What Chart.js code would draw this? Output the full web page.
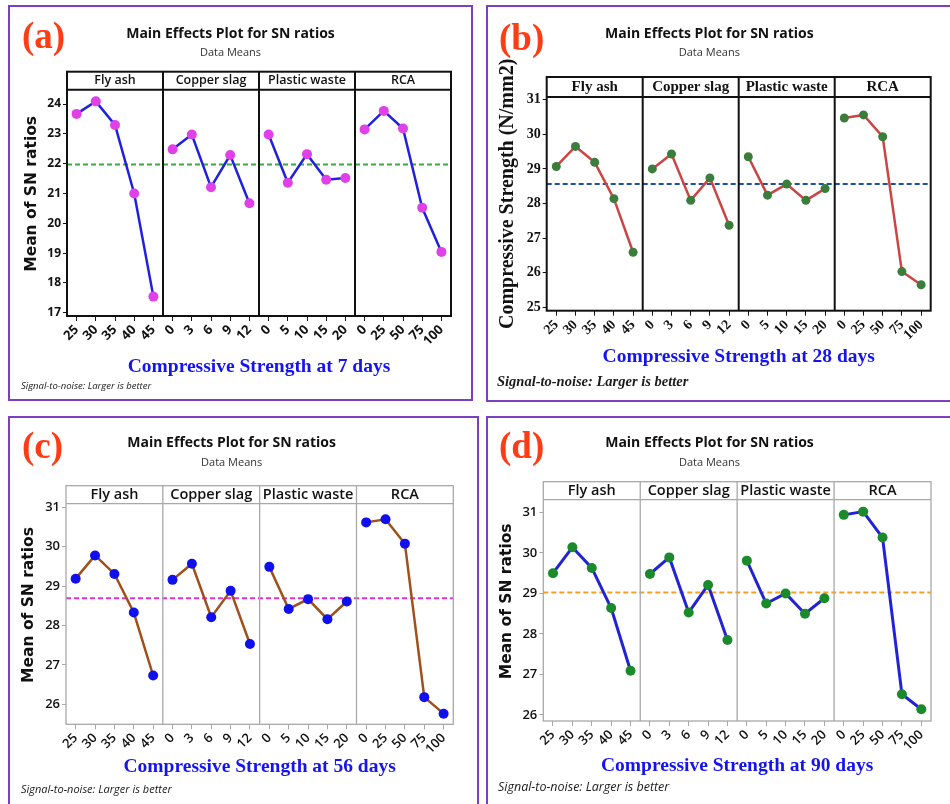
<!DOCTYPE html>
<html><head><meta charset="utf-8">
<script src="https://cdn.jsdelivr.net/npm/chart.js@4.4.1/dist/chart.umd.min.js"></script>
<style>
html,body{margin:0;padding:0;background:#fff;}
body{width:950px;height:804px;position:relative;overflow:hidden;}
.panel{position:absolute;box-sizing:border-box;border:2px solid #7b3fc0;}
canvas{position:absolute;}
.lab{position:absolute;font-family:"Liberation Serif",serif;font-weight:bold;font-size:37px;line-height:37px;color:#ff3c14;white-space:nowrap;z-index:5;}
.note{position:absolute;white-space:nowrap;line-height:20px;color:#1a1a1a;z-index:5;}
</style></head><body>
<div class="panel" style="left:8px;top:5px;width:465px;height:396px;"></div>
<div class="panel" style="left:486px;top:5px;width:470px;height:397px;"></div>
<div class="panel" style="left:8px;top:416px;width:471px;height:400px;"></div>
<div class="panel" style="left:486px;top:416px;width:470px;height:400px;"></div>
<canvas id="cA" width="461" height="392" style="left:10px;top:7px;"></canvas>
<canvas id="cB" width="462" height="393" style="left:488px;top:7px;"></canvas>
<canvas id="cC" width="467" height="386" style="left:10px;top:418px;"></canvas>
<canvas id="cD" width="462" height="386" style="left:488px;top:418px;"></canvas>
<div class="lab" style="left:22px;top:17px;">(a)</div>
<div class="lab" style="left:499px;top:19px;">(b)</div>
<div class="lab" style="left:22px;top:427px;">(c)</div>
<div class="lab" style="left:499px;top:427px;">(d)</div>
<div class="note" style="left:21px;top:376px;font-family:'Open Sans';font-style:italic;font-size:9.5px;">Signal-to-noise: Larger is better</div>
<div class="note" style="left:497px;top:371px;font-family:'Liberation Serif';font-style:italic;font-weight:bold;font-size:14.5px;">Signal-to-noise: Larger is better</div>
<div class="note" style="left:21px;top:779px;font-family:'Open Sans';font-style:italic;font-size:11px;">Signal-to-noise: Larger is better</div>
<div class="note" style="left:498px;top:777px;font-family:'Open Sans';font-style:italic;font-weight:500;font-size:12.5px;">Signal-to-noise: Larger is better</div>
<script>
// ---------- data ----------
const factorNames = ['Fly ash', 'Copper slag', 'Plastic waste', 'RCA'];
const levelsFly = ['25', '30', '35', '40', '45'];
const levelsCopper = ['0', '3', '6', '9', '12'];
const levelsPlastic = ['0', '5', '10', '15', '20'];
const levelsRCA = ['0', '25', '50', '75', '100'];
const xLabels = [...levelsFly, ...levelsCopper, ...levelsPlastic, ...levelsRCA];

// (a) 7 days
const flyA = [23.67, 24.09, 23.30, 21.00, 17.54];
const copperA = [22.48, 22.98, 21.21, 22.29, 20.67];
const plasticA = [22.98, 21.36, 22.32, 21.46, 21.52];
const rcaA = [23.15, 23.77, 23.18, 20.52, 19.04];
const meanA = 21.97;
const yTicksA = [17, 18, 19, 20, 21, 22, 23, 24];

// (b) 28 days
const flyB = [29.07, 29.65, 29.19, 28.14, 26.59];
const copperB = [29.00, 29.43, 28.09, 28.74, 27.37];
const plasticB = [29.35, 28.24, 28.56, 28.09, 28.43];
const rcaB = [30.47, 30.56, 29.93, 26.03, 25.65];
const meanB = 28.56;
const yTicksB = [25, 26, 27, 28, 29, 30, 31];

// (c) 56 days
const flyC = [29.19, 29.78, 29.31, 28.33, 26.73];
const copperC = [29.16, 29.57, 28.21, 28.88, 27.53];
const plasticC = [29.49, 28.42, 28.67, 28.16, 28.61];
const rcaC = [30.62, 30.70, 30.08, 26.18, 25.76];
const meanC = 28.69;
const yTicksC = [26, 27, 28, 29, 30, 31];

// (d) 90 days
const flyD = [29.50, 30.14, 29.63, 28.64, 27.09];
const copperD = [29.48, 29.89, 28.53, 29.21, 27.85];
const plasticD = [29.81, 28.75, 29.00, 28.50, 28.88];
const rcaD = [30.94, 31.02, 30.38, 26.51, 26.14];
const meanD = 29.02;
const yTicksD = [26, 27, 28, 29, 30, 31];

// ---------- facet frame plugin ----------
const facetPlugin = {
  id: 'facet',
  afterDraw(chart, args, o) {
    const {ctx, chartArea: a, scales: {x}} = chart;
    ctx.save();
    ctx.strokeStyle = o.frameColor;
    ctx.lineWidth = o.frameWidth;
    ctx.strokeRect(a.left, a.top, a.right - a.left, a.bottom - a.top);
    ctx.beginPath();
    ctx.moveTo(a.left, a.top + o.headerH);
    ctx.lineTo(a.right, a.top + o.headerH);
    for (let k = 1; k < factorNames.length; k++) {
      const px = x.getPixelForValue(k * 5 - 0.5);
      ctx.moveTo(px, a.top);
      ctx.lineTo(px, a.bottom);
    }
    ctx.stroke();
    ctx.fillStyle = '#111';
    ctx.font = o.font;
    ctx.textAlign = 'center';
    ctx.textBaseline = 'middle';
    factorNames.forEach((n, k) => {
      ctx.fillText(n, x.getPixelForValue(k * 5 + 2), a.top + o.headerH / 2 + o.dy);
    });
    ctx.restore();
  }
};

function build(id, p) {
  const series = [p.fly, p.copper, p.plastic, p.rca];
  const datasets = series.map((vals, k) => ({
    label: factorNames[k],
    data: vals.map((v, i) => ({x: k * 5 + i, y: v})),
    borderColor: p.lineColor,
    borderWidth: p.lineWidth,
    pointBackgroundColor: p.markerColor,
    pointBorderColor: p.markerColor,
    pointBorderWidth: 0,
    pointRadius: p.markerR,
    tension: 0,
    order: 0
  }));
  datasets.push({
    label: 'Mean',
    data: [{x: -0.5, y: p.mean}, {x: 19.5, y: p.mean}],
    borderColor: p.meanColor,
    borderWidth: 2,
    borderDash: [5, 3],
    pointRadius: 0,
    order: 1
  });
  return new Chart(document.getElementById(id), {
    type: 'line',
    data: {datasets},
    options: {
      responsive: false,
      animation: false,
      events: [],
      layout: {padding: {left: 0, right: p.padRight, top: 0, bottom: 0}},
      plugins: {
        legend: {display: false},
        tooltip: {enabled: false},
        title: {
          display: true, text: 'Main Effects Plot for SN ratios', color: '#111',
          font: {family: '"Open Sans"', size: 14, weight: 'bold', lineHeight: 1.2},
          padding: {top: p.titlePt, bottom: p.titlePb}
        },
        subtitle: {
          display: true, text: 'Data Means', color: '#333',
          font: {family: '"Open Sans"', size: 11, weight: 'normal', lineHeight: 1.2},
          padding: {top: 0, bottom: p.subPb}
        },
        facet: {frameColor: p.frameColor, frameWidth: p.frameWidth, headerH: p.headerH, font: p.headerFont, dy: p.headerDy || 0}
      },
      scales: {
        x: {
          type: 'linear', min: -0.5, max: 19.5,
          afterBuildTicks: s => { s.ticks = xLabels.map((l, i) => ({value: i})); },
          afterFit: s => { s.height = p.xH; },
          grid: {drawOnChartArea: false, drawTicks: true, tickLength: 5, color: p.tickColor, lineWidth: 1},
          border: {display: false},
          ticks: {autoSkip: false, minRotation: 45, maxRotation: 45, padding: 1, color: '#111', font: p.xTickFont || p.tickFont,
                  callback: v => xLabels[v]},
          title: {display: true, text: p.xTitle, color: '#1414f0',
                  font: {family: '"Liberation Serif"', size: 19.5, weight: 'bold', lineHeight: 1.2},
                  padding: {top: 0, bottom: p.xTitlePb}}
        },
        y: {
          type: 'linear', min: p.ymin, max: p.ymax,
          afterBuildTicks: s => { s.ticks = p.yTicks.map(v => ({value: v})); },
          afterFit: s => { s.width = p.yW; },
          grid: {drawOnChartArea: false, drawTicks: true, tickLength: 4, color: p.tickColor, lineWidth: 1},
          border: {display: false},
          ticks: {padding: 2, color: '#111', font: p.tickFont},
          title: {display: true, text: p.yTitle, color: '#111', font: p.yTitleFont,
                  padding: {top: p.yTitlePt, bottom: 0}}
        }
      }
    },
    plugins: [facetPlugin]
  });
}

const sansTitleY = {family: '"DejaVu Sans"', size: 15.5, weight: 'bold', lineHeight: 1.2};

build('cA', {
  fly: flyA, copper: copperA, plastic: plasticA, rca: rcaA, mean: meanA, yTicks: yTicksA,
  ymin: 16.89, ymax: 25.085, yW: 57, padRight: 20, xH: 83, headerH: 18,
  titlePt: 18.8, titlePb: 3.8, subPb: 12.1, xTitlePb: 20.6, yTitlePt: 13,
  xTitle: 'Compressive Strength at 7 days', yTitle: 'Mean of SN ratios', yTitleFont: sansTitleY,
  lineColor: '#2020e0', lineWidth: 2.5, markerColor: '#e040e8', markerR: 5, meanColor: '#3aaa3a',
  frameColor: '#111', frameWidth: 2, tickColor: '#111',
  tickFont: {family: '"Open Sans"', size: 12, weight: 'bold'},
  xTickFont: {family: '"Open Sans"', size: 13, weight: 'bold'},
  headerFont: '600 12.5px "Open Sans"'
});

build('cB', {
  fly: flyB, copper: copperB, plastic: plasticB, rca: rcaB, mean: meanB, yTicks: yTicksB,
  ymin: 24.90, ymax: 31.657, yW: 58.7, padRight: 19.3, xH: 89.3, headerH: 20,
  titlePt: 18.8, titlePb: 3.8, subPb: 17.4, xTitlePb: 31.6, yTitlePt: 8,
  xTitle: 'Compressive Strength at 28 days', yTitle: 'Compressive Strength (N/mm2)',
  yTitleFont: {family: '"Liberation Serif"', size: 20, weight: 'bold', lineHeight: 1.2},
  lineColor: '#cc4444', lineWidth: 2.5, markerColor: '#3b7d3b', markerR: 4.5, meanColor: '#1a4fa8',
  frameColor: '#111', frameWidth: 2, tickColor: '#111',
  tickFont: {family: '"Liberation Serif"', size: 14, weight: 'bold'},
  headerFont: 'bold 15px "Liberation Serif"'
});

build('cC', {
  fly: flyC, copper: copperC, plastic: plasticC, rca: rcaC, mean: meanC, yTicks: yTicksC,
  ymin: 25.49, ymax: 31.552, yW: 56, padRight: 23.7, xH: 79.7, headerH: 18,
  titlePt: 16.8, titlePb: 4.2, subPb: 16.7, xTitlePb: 25.6, yTitlePt: 10,
  xTitle: 'Compressive Strength at 56 days', yTitle: 'Mean of SN ratios', yTitleFont: sansTitleY,
  lineColor: '#a0501a', lineWidth: 2.5, markerColor: '#1010ee', markerR: 5, meanColor: '#e030e0',
  frameColor: '#a8a8a8', frameWidth: 1.3, tickColor: '#a8a8a8',
  tickFont: {family: '"Open Sans"', size: 13, weight: '600'},
  headerFont: '600 14.5px "Open Sans"'
});

build('cD', {
  fly: flyD, copper: copperD, plastic: plasticD, rca: rcaD, mean: meanD, yTicks: yTicksD,
  ymin: 25.85, ymax: 31.759, yW: 55.3, padRight: 19, xH: 83, headerH: 18,
  titlePt: 16.8, titlePb: 4.2, subPb: 12.7, xTitlePb: 26.3, yTitlePt: 10,
  xTitle: 'Compressive Strength at 90 days', yTitle: 'Mean of SN ratios', yTitleFont: sansTitleY,
  lineColor: '#2323d6', lineWidth: 3, markerColor: '#1a8a2a', markerR: 5, meanColor: '#f5a020',
  frameColor: '#a8a8a8', frameWidth: 1.3, tickColor: '#a8a8a8',
  tickFont: {family: '"Open Sans"', size: 13, weight: '600'},
  headerFont: '600 14.5px "Open Sans"'
});
</script>
</body></html>
